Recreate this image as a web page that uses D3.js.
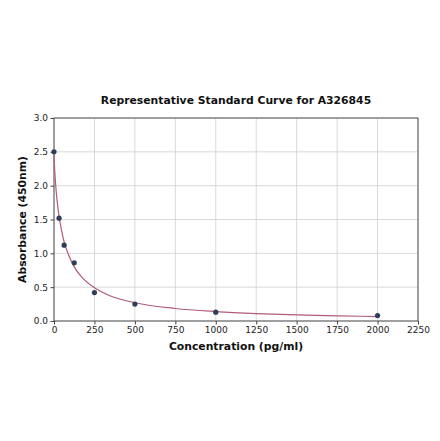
<!DOCTYPE html>
<html><head><meta charset="utf-8">
<script src="https://cdn.jsdelivr.net/npm/d3@7"></script>
<style>body{margin:0;background:#fff;} svg{font-family:"DejaVu Sans",sans-serif;}</style>
</head><body>
<script>
const pointX = [0, 31.25, 62.5, 125, 250, 500, 1000, 2000];
const pointY = [2.50, 1.52, 1.12, 0.86, 0.42, 0.25, 0.13, 0.08];
const curveX = [0, 5, 10, 20, 31.25, 45, 62.5, 90, 125, 175, 250, 350, 500, 750, 1000, 1250, 1500, 1750, 2000];
const curveY = [2.45, 2.2, 2.02, 1.76, 1.55, 1.36, 1.17, 0.98, 0.80, 0.64, 0.49, 0.37, 0.27, 0.185, 0.14, 0.11, 0.09, 0.077, 0.066];
const xTicks = [0, 250, 500, 750, 1000, 1250, 1500, 1750, 2000, 2250];
const yTicks = [0, 0.5, 1.0, 1.5, 2.0, 2.5, 3.0];
const title = "Representative Standard Curve for A326845";
const xLabel = "Concentration (pg/ml)";
const yLabel = "Absorbance (450nm)";

const W = 440, H = 441;
const m = {l: 54, r: 418, t: 118, b: 321};
const svg = d3.select("body").append("svg").attr("width", W).attr("height", H);
const x = d3.scaleLinear().domain([0, 2250]).range([m.l, m.r]);
const y = d3.scaleLinear().domain([0, 3]).range([m.b, m.t]);

// grid
svg.append("g").selectAll("line").data(xTicks).join("line")
  .attr("x1", d => x(d)).attr("x2", d => x(d)).attr("y1", m.t).attr("y2", m.b)
  .attr("stroke", "#cfcfcf").attr("stroke-width", 0.8);
svg.append("g").selectAll("line").data(yTicks).join("line")
  .attr("x1", m.l).attr("x2", m.r).attr("y1", d => y(d)).attr("y2", d => y(d))
  .attr("stroke", "#cfcfcf").attr("stroke-width", 0.8);

// axes
const xAxis = svg.append("g").attr("transform", `translate(0,${m.b})`)
  .call(d3.axisBottom(x).tickValues(xTicks).tickFormat(d3.format("d")).tickSize(3.5).tickPadding(2.5).tickSizeOuter(0));
const yAxis = svg.append("g").attr("transform", `translate(${m.l},0)`)
  .call(d3.axisLeft(y).tickValues(yTicks).tickFormat(d3.format(".1f")).tickSize(3.5).tickPadding(2.5).tickSizeOuter(0));
[xAxis, yAxis].forEach(g => {
  g.select(".domain").remove();
  g.selectAll("text").attr("font-size", 9).attr("fill", "#222").attr("font-family", "DejaVu Sans");
  g.selectAll("line").attr("stroke", "#444");
});

// frame
svg.append("rect").attr("x", m.l).attr("y", m.t).attr("width", m.r - m.l).attr("height", m.b - m.t)
  .attr("fill", "none").attr("stroke", "#444").attr("stroke-width", 0.9);

// curve
const cdata = curveX.map((d, i) => [d, curveY[i]]);
svg.append("path").datum(cdata)
  .attr("d", d3.line().x(d => x(d[0])).y(d => y(d[1])).curve(d3.curveMonotoneX))
  .attr("fill", "none").attr("stroke", "#b35a78").attr("stroke-width", 1.2);

// points
svg.append("g").selectAll("circle").data(pointX.map((d, i) => [d, pointY[i]])).join("circle")
  .attr("cx", d => x(d[0])).attr("cy", d => y(d[1])).attr("r", 2.6)
  .attr("fill", "#2f3d5c");

// labels
svg.append("text").attr("x", 236).attr("y", 104).attr("text-anchor", "middle")
  .attr("font-size", 10.8).attr("font-weight", "bold").attr("fill", "#111").text(title);
svg.append("text").attr("x", 236).attr("y", 350).attr("text-anchor", "middle")
  .attr("font-size", 10.8).attr("font-weight", "bold").attr("fill", "#111").text(xLabel);
svg.append("text").attr("transform", `translate(26,${(m.t + m.b) / 2}) rotate(-90)`).attr("text-anchor", "middle")
  .attr("font-size", 10.8).attr("font-weight", "bold").attr("fill", "#111").text(yLabel);
</script>
</body></html>
